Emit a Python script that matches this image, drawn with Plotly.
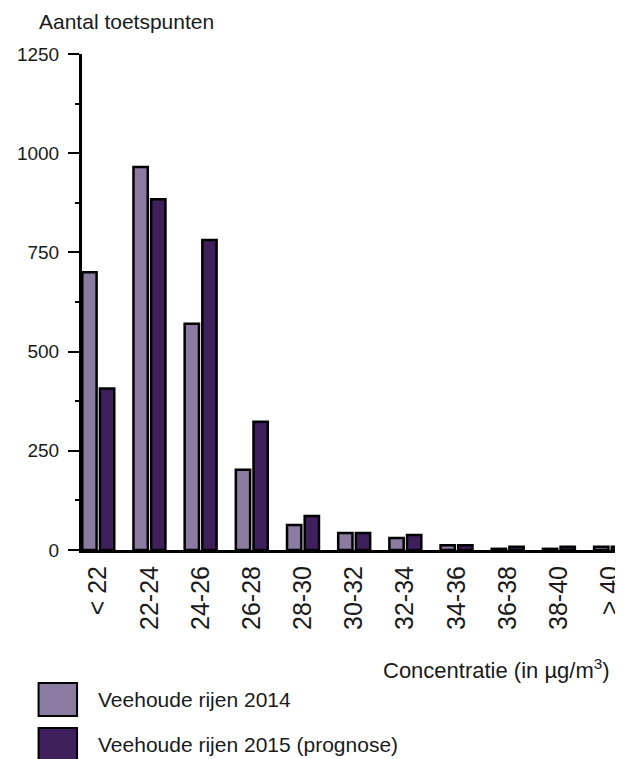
import plotly.graph_objects as go

categories = ["< 22", "22-24", "24-26", "26-28", "28-30", "30-32",
              "32-34", "34-36", "36-38", "38-40", "> 40"]
values_2014 = [700, 965, 570, 202, 63, 43, 30, 12, 3, 3, 8]
values_2015 = [407, 884, 781, 323, 86, 43, 38, 12, 8, 8, 8]
series_names = ["Veehoude rijen 2014", "Veehoude rijen 2015 (prognose)"]
y_ticks = [0, 250, 500, 750, 1000, 1250]

color_2014 = "#8B7BA0"
color_2015 = "#3F1F5C"
text_color = "#1a1a1a"
FONT = "Liberation Sans, Arial, sans-serif"

# page body has an 8px margin; figure is sized to fit the 623x759 window
OFF = 8
W, H = 623 - OFF, 759 - OFF
L, R, T = 82 - OFF, 0, 54 - OFF
B = H - (550 - OFF)
pw, ph = W - L - R, H - T - B

fig = go.Figure()
fig.add_trace(go.Bar(x=categories, y=values_2014, name=series_names[0],
                     marker=dict(color=color_2014, line=dict(color="black", width=2.5)),
                     showlegend=False))
fig.add_trace(go.Bar(x=categories, y=values_2015, name=series_names[1],
                     marker=dict(color=color_2015, line=dict(color="black", width=2.5)),
                     showlegend=False))

def px_x(px):
    return (px - OFF - L) / pw

def px_y(py):
    return (H - B - (py - OFF)) / ph

shapes = []
annotations = []
legend_rows = [(683, 716, color_2014, series_names[0]),
               (728, 761, color_2015, series_names[1])]
for y0, y1, col, name in legend_rows:
    shapes.append(dict(type="rect", xref="paper", yref="paper",
                       x0=px_x(38), x1=px_x(77), y0=px_y(y1), y1=px_y(y0),
                       fillcolor=col, line=dict(color="black", width=2)))
    annotations.append(dict(xref="paper", yref="paper", x=px_x(96), y=px_y((y0 + y1) / 2),
                            xanchor="left", yanchor="middle", showarrow=False,
                            text=name, font=dict(family=FONT, size=21, color=text_color)))

annotations.append(dict(xref="paper", yref="paper", x=px_x(502), y=px_y(669),
                        xanchor="center", yanchor="middle", showarrow=False,
                        text="Concentratie (in µg/m<sup>3</sup>)",
                        font=dict(family=FONT, size=22, color=text_color)))

fig.update_layout(
    width=W, height=H,
    margin=dict(l=L, r=R, t=T, b=B, pad=0),
    paper_bgcolor="white", plot_bgcolor="white",
    barmode="group", bargap=0.31, bargroupgap=0.19,
    title=dict(text="Aantal toetspunten", x=(39 - OFF) / W, xanchor="left", xref="container",
               y=1 - (22 - OFF) / H, yanchor="middle", yref="container",
               font=dict(family=FONT, size=21, color=text_color)),
    font=dict(family=FONT, size=19, color=text_color),
    shapes=shapes, annotations=annotations,
    xaxis=dict(range=[-0.318, 10.116], showline=True, linecolor="black", linewidth=3,
               ticks="", tickangle=-90, showgrid=False, zeroline=False,
               tickfont=dict(family=FONT, size=25, color=text_color),
               ticklabelstandoff=3, fixedrange=True),
    yaxis=dict(range=[0, 1250], tickvals=y_ticks, showline=True, linecolor="black",
               linewidth=3, ticks="outside", ticklen=11, tickwidth=2, tickcolor="black",
               minor=dict(ticks="outside", ticklen=4, tickwidth=2, tickcolor="black",
                          dtick=125, tick0=0, showgrid=False),
               showgrid=False, zeroline=False, ticklabelstandoff=5,
               tickfont=dict(family=FONT, size=19, color=text_color), fixedrange=True),
)

fig.write_html("out.html")
